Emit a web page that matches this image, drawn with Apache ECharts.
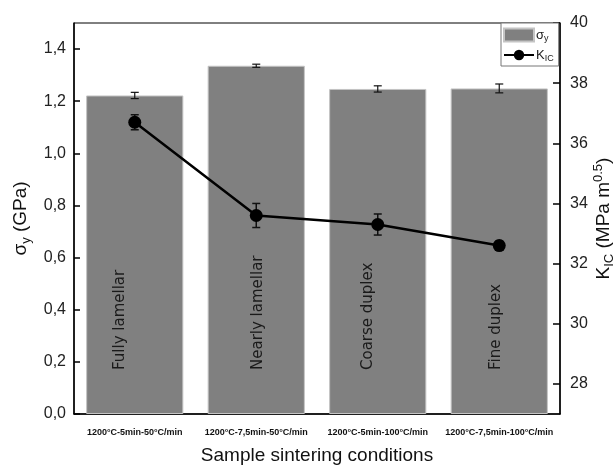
<!DOCTYPE html>
<html>
<head>
<meta charset="utf-8">
<script src="https://cdn.jsdelivr.net/npm/echarts@6/dist/echarts.min.js"></script>
<style>
  html, body { margin: 0; padding: 0; background: #fff; }
  #container1 { width: 615px; height: 465px; }
</style>
</head>
<body>
<div id="container1"></div>
<script>
// sintering conditions (x axis)
var categories = ['1200°C-5min-50°C/min', '1200°C-7,5min-50°C/min', '1200°C-5min-100°C/min', '1200°C-7,5min-100°C/min'];
// microstructure written inside each bar
var microstructures = ['Fully lamellar', 'Nearly lamellar', 'Coarse duplex', 'Fine duplex'];
// yield strength (GPa) and its error
var sigmaY = [1.222, 1.336, 1.247, 1.249];
var sigmaErr = [0.012, 0.006, 0.012, 0.017];
// fracture toughness KIC (MPa m^0.5) and its error
var kic = [36.7, 33.6, 33.3, 32.6];
var kicErr = [0.25, 0.4, 0.35, 0.15];
// tick labels
var leftTicks = [0, 0.2, 0.4, 0.6, 0.8, 1.0, 1.2, 1.4];
var rightTicks = [28, 30, 32, 34, 36, 38, 40];

var FONT = '"Liberation Sans", Arial, sans-serif';
// small horizontal shift of each vertical bar text (px)
var textShift = [-15, 2, -10, -3];

var dom = document.getElementById('container1');
var myChart = echarts.init(dom);

function errData(vals, errs) {
    return vals.map(function (v, i) { return [i, v - errs[i], v + errs[i]]; });
}

function renderErr(capHalf, lw) {
    return function (params, api) {
        var lo = api.coord([api.value(0), api.value(1)]);
        var hi = api.coord([api.value(0), api.value(2)]);
        var st = { stroke: '#111', lineWidth: lw };
        return {
            type: 'group',
            children: [
                { type: 'line', shape: { x1: lo[0], y1: lo[1], x2: hi[0], y2: hi[1] }, style: st },
                { type: 'line', shape: { x1: lo[0] - capHalf, y1: lo[1], x2: lo[0] + capHalf, y2: lo[1] }, style: st },
                { type: 'line', shape: { x1: hi[0] - capHalf, y1: hi[1], x2: hi[0] + capHalf, y2: hi[1] }, style: st }
            ]
        };
    };
}

var option = {
    animation: false,
    textStyle: { fontFamily: FONT },
    grid: {
        left: 74, right: 55, top: 23, bottom: 51,
        outerBoundsMode: 'none',
        containLabel: false,
        show: true, borderColor: '#000', borderWidth: 1
    },
    legend: {
        orient: 'vertical',
        left: 501,
        top: 23,
        width: 59,
        padding: [3, 5, 3, 2],
        itemGap: 3,
        itemWidth: 30,
        itemHeight: 13,
        backgroundColor: '#fff',
        borderColor: '#777',
        borderWidth: 1,
        borderRadius: 0,
        data: [{ name: 'σy', icon: 'rect' }, { name: 'KIC' }],
        formatter: function (name) {
            return name === 'σy' ? '{a|σ}{s|y}' : '{a|K}{s|IC}';
        },
        textStyle: {
            padding: [0, 0, 0, -3],
            rich: {
                a: { fontSize: 13, fontFamily: FONT, color: '#222', lineHeight: 16 },
                s: { fontSize: 9, fontFamily: FONT, color: '#222', lineHeight: 16, verticalAlign: 'bottom', padding: [8, 0, 0, 0] }
            }
        }
    },
    xAxis: [{
        type: 'category',
        data: categories,
        name: 'Sample sintering conditions',
        nameLocation: 'middle',
        nameGap: 32,
        nameTextStyle: { fontSize: 19, color: '#111', fontFamily: FONT },
        axisLine: { lineStyle: { color: '#000', width: 1.5 } },
        axisTick: { alignWithLabel: true, length: 7, lineStyle: { color: '#000', width: 1.5 } },
        axisLabel: { fontSize: 9, fontWeight: 'bold', color: '#111', margin: 14, interval: 0, fontFamily: FONT }
    }, {
        type: 'category',
        data: categories,
        position: 'bottom',
        axisLine: { show: false },
        axisTick: { length: 3, lineStyle: { color: '#000', width: 1.2 } },
        axisLabel: { show: false }
    }],
    yAxis: [{
        type: 'value',
        min: 0,
        max: 1.5,
        name: '{a|σ}{s|y}{a| (GPa)}',
        nameLocation: 'middle',
        nameRotate: 90,
        nameGap: 40,
        nameTextStyle: {
            rich: {
                a: { fontSize: 19, color: '#111', fontFamily: FONT, lineHeight: 24 },
                s: { fontSize: 13, color: '#111', fontFamily: FONT, lineHeight: 24, verticalAlign: 'bottom', padding: [12, 0, 0, 0] }
            }
        },
        splitLine: { show: false },
        axisLine: { show: true, lineStyle: { color: '#000', width: 1.5 } },
        axisTick: { show: true, inside: true, length: 6, customValues: leftTicks, lineStyle: { color: '#000', width: 1.5 } },
        axisLabel: {
            customValues: leftTicks,
            fontSize: 16, color: '#222', margin: 8, fontFamily: FONT,
            formatter: function (v) { return v.toFixed(1).replace('.', ','); }
        }
    }, {
        type: 'value',
        min: 27,
        max: 40,
        position: 'right',
        name: '{a|K}{s|IC}{a| (MPa m}{p|0.5}{a|)}',
        nameLocation: 'middle',
        nameRotate: 90,
        nameGap: 32,
        nameMoveOverlap: false,
        nameTextStyle: {
            rich: {
                a: { fontSize: 19, color: '#111', fontFamily: FONT, lineHeight: 24 },
                s: { fontSize: 13, color: '#111', fontFamily: FONT, lineHeight: 24, verticalAlign: 'bottom', padding: [12, 0, 0, 0] },
                p: { fontSize: 13, color: '#111', fontFamily: FONT, lineHeight: 24, verticalAlign: 'top', padding: [0, 0, 10, 0] }
            }
        },
        splitLine: { show: false },
        axisLine: { show: true, lineStyle: { color: '#000', width: 1.5 } },
        axisTick: { show: true, inside: true, length: 7, customValues: rightTicks, lineStyle: { color: '#000', width: 1.5 } },
        axisLabel: { customValues: rightTicks, fontSize: 16, color: '#222', margin: 10, fontFamily: FONT }
    }],
    series: [{
        name: 'σy',
        type: 'bar',
        barWidth: '80%',
        itemStyle: { color: '#808080', borderColor: '#c4c4c4', borderWidth: 1 },
        data: sigmaY
    }, {
        type: 'custom',
        name: 'sigmaErr',
        renderItem: renderErr(4, 1.2),
        data: errData(sigmaY, sigmaErr),
        z: 3
    }, {
        type: 'custom',
        name: 'labels',
        renderItem: function (params, api) {
            var p = api.coord([api.value(0), 0]);
            return {
                type: 'text',
                x: p[0] + textShift[params.dataIndex],
                y: p[1] - 44,
                rotation: Math.PI / 2,
                style: {
                    text: microstructures[params.dataIndex],
                    font: '15px "DejaVu Sans", sans-serif',
                    fill: '#1a1a1a',
                    align: 'left',
                    verticalAlign: 'middle'
                }
            };
        },
        data: microstructures.map(function (m, i) { return [i]; }),
        z: 4
    }, {
        type: 'custom',
        name: 'kicErr',
        yAxisIndex: 1,
        renderItem: renderErr(4, 1.5),
        data: errData(kic, kicErr),
        z: 5
    }, {
        name: 'KIC',
        type: 'line',
        yAxisIndex: 1,
        symbol: 'circle',
        symbolSize: 13,
        lineStyle: { color: '#000', width: 2.5 },
        itemStyle: { color: '#000' },
        data: kic,
        z: 6
    }]
};

myChart.setOption(option, true);
</script>
</body>
</html>
